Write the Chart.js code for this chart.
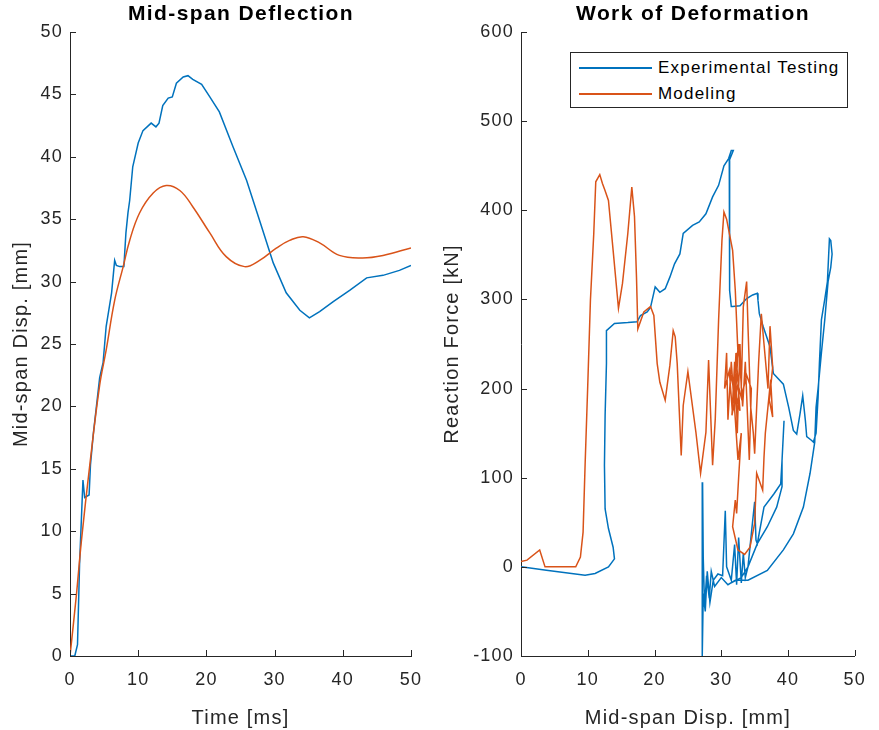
<!DOCTYPE html>
<html>
<head>
<meta charset="utf-8">
<script src="https://cdn.jsdelivr.net/npm/chart.js@4.4.0/dist/chart.umd.min.js"></script>
<style>
  html, body { margin: 0; padding: 0; background: #fff; }
  #fig { position: relative; width: 879px; height: 730px; overflow: hidden; font-family: "Liberation Sans", Arial, sans-serif; }
  canvas { position: absolute; top: 0; }
  #c1 { left: 0; }
  #c2 { left: 440px; }
  .ttl { position: absolute; top: 1px; font-weight: bold; font-size: 21px; letter-spacing: 1.4px; color: #000; transform: translateX(-50%); white-space: nowrap; }
  #legend { position: absolute; left: 570px; top: 52px; width: 276px; height: 54px; border: 1px solid #262626; background: #fff; }
  .row { position: absolute; left: 0; height: 20px; width: 100%; }
  .row .ln { position: absolute; left: 8px; top: 9px; width: 73px; height: 1.5px; }
  .row .tx { position: absolute; left: 87px; top: 0; font-size: 17px; line-height: 20px; letter-spacing: 1.2px; color: #000; white-space: nowrap; }
</style>
</head>
<body>
<div id="fig">
  <canvas id="c1" width="440" height="730"></canvas>
  <canvas id="c2" width="439" height="730"></canvas>
  <div class="ttl" style="left:241px">Mid-span Deflection</div>
  <div class="ttl" style="left:693px">Work of Deformation</div>
  <div id="legend">
    <div class="row" style="top:5px"><div class="ln" style="background:#0072BD"></div><div class="tx">Experimental Testing</div></div>
    <div class="row" style="top:31px"><div class="ln" style="background:#D95319"></div><div class="tx">Modeling</div></div>
  </div>
</div>
<script>
// colours (MATLAB defaults)
const BLUE = '#0072BD';
const ORANGE = '#D95319';
const AXIS = '#262626';

// ---- left plot: mid-span displacement vs time ----
const expTime = [0, 0.7, 1.1, 1.4, 1.9, 2.15, 2.8, 3.0, 3.4, 4.35, 4.85, 5.3, 6.1, 6.55, 6.8, 7.3, 7.9, 8.2, 8.5, 8.75, 9.2, 10.0, 10.7, 11.9, 12.6, 13.05, 13.6, 14.4, 15.0, 15.6, 16.6, 17.3, 18.0, 19.3, 20.5, 21.9, 23.9, 25.9, 27.8, 29.8, 31.7, 33.7, 35.1, 36.6, 38.6, 41.0, 43.5, 45.9, 48.3, 50];
const expDisp = [0, 0, 0.9, 7.3, 14.1, 12.7, 12.9, 15.3, 17.7, 22.3, 23.5, 26.4, 29.1, 31.7, 31.3, 31.2, 31.2, 33.9, 35.5, 36.5, 39.2, 41.1, 42.1, 42.7, 42.4, 42.7, 44.1, 44.7, 44.8, 45.9, 46.4, 46.5, 46.2, 45.8, 44.8, 43.6, 40.8, 38.1, 34.9, 31.5, 29.1, 27.7, 27.1, 27.6, 28.4, 29.3, 30.3, 30.5, 30.9, 31.3];

const modTime = [0, 0.94, 1.67, 2.9, 4.35, 5.3, 6.55, 7.8, 8.75, 10.2, 12.2, 14.1, 16.1, 18.0, 20.5, 22.9, 25.6, 27.8, 30.3, 32.2, 34.2, 36.6, 39.5, 42.9, 45.9, 50];
const modDisp = [0, 4.9, 9.2, 15.3, 21.7, 24.5, 28.5, 31.2, 33.3, 35.5, 37.1, 37.7, 37.3, 36.0, 33.9, 32.0, 31.2, 31.7, 32.7, 33.3, 33.6, 33.1, 32.1, 31.9, 32.1, 32.7];

// ---- right plot: reaction force [kN] vs mid-span disp [mm], ordered path ----
const expCurve = [
  [0,0],[3.8,-3.7],[9.6,-9.3],[11.1,-7.5],[13.1,0],[14.0,9],[13.8,22],[13.1,43],[12.6,65],[12.5,114],[12.6,170],[12.8,228],[12.8,265],
  [14.0,273],[16.0,274],[17.4,275],[17.9,282],[18.9,286],[19.4,291],[20.1,314],[20.8,308],[21.6,312],[22.3,325],[23.0,340],[23.8,351],
  [24.3,374],[25.7,383],[26.7,387],[27.7,396],[28.7,415],[29.6,428],[30.4,450],[31.1,458],[31.5,467],[31.8,467],[31.2,456],[31.2,374],
  [31.3,310],[31.5,292],[31.7,292],[32.8,293],[33.8,301],[34.7,305],[35.4,307],[35.5,299],[35.7,284],[36.3,269],[37.3,247],[37.8,217],
  [39.3,205],[40.1,179],[40.8,153],[41.3,149],[41.8,172],[42.2,192],[42.6,164],[42.8,146],[43.5,142],[43.8,140],[44.2,150],[44.5,190],
  [44.7,228],[45.0,277],[45.5,300],[45.9,320],[46.2,368],[46.4,366],[46.6,351],[46.4,336],[46.0,320],[45.5,277],[45.0,240],[44.5,200],
  [44.2,179],[44.0,140],[43.3,105],[42.3,67],[40.8,37],[39.3,19],[36.9,-4],[34.0,-15],[32.1,-15],[31.0,-20],[30.0,-12],[29.0,-22],
  [28.5,-5],[28.2,-35],[27.8,-10],[27.5,-45],[27.3,10],[27.2,95],[27.15,-100],[27.3,-30],[27.6,-50],[27.9,-5],[28.3,-40],[28.8,-15],
  [29.5,-8],[30.2,-10],[30.6,63],[30.8,0],[31.5,-15],[32.0,25],[32.3,-20],[32.6,33],[33.0,-18],[33.3,15],[33.6,-12],[34.0,0],[34.5,37],
  [35.0,73],[35.2,30],[35.4,26],[36.4,67],[37.9,82],[38.9,93],[39.1,119],[39.4,164],[39.1,119],[39.1,90],[38.3,67],[36.9,45],[35.4,26],
  [34.0,0],[33.0,-12],[31.5,-18]
];
const modCurve = [
  [0,6],[0.9,7.5],[2.8,19],[3.6,0],[8.2,0],[8.9,11],[9.3,39],[9.6,114],[10.0,204],[10.4,299],[10.9,374],[11.2,432],[11.8,440],[12.2,430],
  [12.6,422],[13.1,411],[13.8,355],[14.6,290],[15.2,318],[16.0,374],[16.6,426],[17.0,393],[17.3,325],[17.5,267],[18.4,286],[19.4,292],
  [19.9,282],[20.4,228],[20.8,207],[21.6,187],[22.3,226],[22.8,265],[23.1,258],[23.4,228],[24.0,125],[24.3,181],[25.0,219],[26.2,151],
  [26.9,105],[27.7,151],[28.1,232],[28.7,114],[29.1,166],[29.6,277],[30.1,366],[30.4,398],[30.8,390],[31.7,355],[32.1,310],[32.5,240],
  [32.0,175],[31.5,230],[31.0,165],[30.8,240],[30.5,200],[31.2,220],[31.6,180],[32.2,210],[32.4,150],[32.8,250],[33.0,200],[33.3,292],
  [33.8,320],[34.0,270],[34.4,180],[34.8,150],[35.0,127],[35.6,230],[36.0,284],[36.4,250],[37.0,200],[37.3,270],[37.7,224],[37.2,187],
  [37.7,168],[37.4,210],[36.6,150],[36.4,123],[36.2,86],[35.3,105],[35.0,49],[34.3,22],[33.5,14],[32.5,19],[31.7,45],[32.1,75],[32.3,60],
  [32.6,100],[33.0,150],[32.5,120],[31.8,200],[32.6,250],[33.2,180],[33.6,230],[34.2,120],[34.5,200],[33.8,215],[33.0,190],[32.5,205],
  [31.6,170],[32.0,230],[32.3,185],[31.4,215],[32.8,175],[32.2,240],[31.9,190]
];

const FONT = '"Liberation Sans", Arial, sans-serif';
Chart.defaults.font.family = FONT;
Chart.defaults.color = AXIS;

// MATLAB style: ticks point into the plot; text slightly spaced out
const innerTicks = {
  id: 'innerTicks',
  beforeLayout(chart) { chart.ctx.letterSpacing = '1.2px'; },
  beforeDraw(chart) { chart.ctx.letterSpacing = '1.2px'; },
  afterDraw(chart) {
    const {ctx, chartArea, scales} = chart;
    ctx.save();
    ctx.strokeStyle = AXIS;
    ctx.lineWidth = 1;
    scales.x.ticks.forEach(t => {
      const px = Math.round(scales.x.getPixelForValue(t.value)) + 0.5;
      ctx.beginPath(); ctx.moveTo(px, chartArea.bottom); ctx.lineTo(px, chartArea.bottom - 6); ctx.stroke();
    });
    scales.y.ticks.forEach(t => {
      const py = Math.round(scales.y.getPixelForValue(t.value)) + 0.5;
      ctx.beginPath(); ctx.moveTo(chartArea.left, py); ctx.lineTo(chartArea.left + 6, py); ctx.stroke();
    });
    ctx.restore();
  }
};

function line(label, pts, color, order, tension) {
  return {
    label, data: pts.map(p => ({x: p[0], y: p[1]})),
    showLine: true, borderColor: color, backgroundColor: color,
    borderWidth: 1.5, pointRadius: 0, tension: tension || 0, order
  };
}

function makeScales(xmin, xmax, xstep, xtitle, ymin, ymax, ystep, ytitle, yWidth, yTitlePad) {
  const tickFont = {size: 18, family: FONT};
  const titleFont = {size: 20, family: FONT};
  return {
    x: {
      type: 'linear', min: xmin, max: xmax,
      ticks: {stepSize: xstep, padding: 13, color: AXIS, font: tickFont, maxRotation: 0},
      grid: {drawOnChartArea: false, drawTicks: false},
      border: {display: true, color: AXIS, width: 1},
      title: {display: true, text: xtitle, color: AXIS, font: titleFont, padding: {top: 7, bottom: 0}},
      afterFit(s) { s.height = 74; }
    },
    y: {
      type: 'linear', min: ymin, max: ymax,
      ticks: {stepSize: ystep, padding: 7, color: AXIS, font: tickFont},
      grid: {drawOnChartArea: false, drawTicks: false},
      border: {display: true, color: AXIS, width: 1},
      title: {display: true, text: ytitle, color: AXIS, font: titleFont, padding: {top: yTitlePad, bottom: 0}},
      afterFit(s) { s.width = yWidth; }
    }
  };
}

const common = {
  responsive: false, animation: false, devicePixelRatio: 1,
  plugins: {legend: {display: false}, tooltip: {enabled: false}, title: {display: false}}
};

new Chart(document.getElementById('c1'), {
  type: 'scatter',
  data: {
    datasets: [
      line('Experimental Testing', expTime.map((t, i) => [t, expDisp[i]]), BLUE, 2, 0),
      line('Modeling', modTime.map((t, i) => [t, modDisp[i]]), ORANGE, 1, 0.4)
    ]
  },
  options: Object.assign({}, common, {
    layout: {padding: {left: 0, top: 32, right: 29, bottom: 0}},
    scales: makeScales(0, 50, 10, 'Time [ms]', 0, 50, 5, 'Mid-span Disp. [mm]', 70, 9)
  }),
  plugins: [innerTicks]
});

new Chart(document.getElementById('c2'), {
  type: 'scatter',
  data: {
    datasets: [
      line('Experimental Testing', expCurve, BLUE, 2, 0),
      line('Modeling', modCurve, ORANGE, 1, 0)
    ]
  },
  options: Object.assign({}, common, {
    layout: {padding: {left: 0, top: 32, right: 16, bottom: 0}},
    scales: makeScales(0, 50, 10, 'Mid-span Disp. [mm]', -100, 600, 100, 'Reaction Force [kN]', 81, 0)
  }),
  plugins: [innerTicks]
});
</script>
</body>
</html>
